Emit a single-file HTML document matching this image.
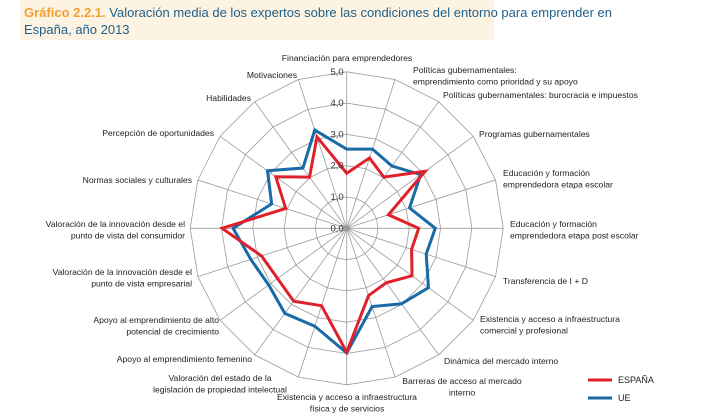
<!DOCTYPE html>
<html><head><meta charset="utf-8">
<style>
html,body{margin:0;padding:0;background:#fff;}
svg{display:block;}
text{font-family:"Liberation Sans",sans-serif;}
.lb{font-size:8.6px;fill:#222;}
</style></head>
<body>
<svg width="707" height="420" viewBox="0 0 707 420">
<rect x="20" y="0" width="474" height="40" fill="#fdf3e2"/>
<text x="24" y="17" font-size="13" fill="#1f5f8b"><tspan fill="#f0a030" font-weight="bold">Gráfico 2.2.1.</tspan> Valoración media de los expertos sobre las condiciones del entorno para emprender en</text>
<text x="24" y="34" font-size="13" fill="#1f5f8b">España, año 2013</text>
<g id="grid"></g>
<g id="series"></g>
<g id="ticks"></g>
<g id="labels"></g>
<g>
<line x1="588" y1="380" x2="612" y2="380" stroke="#e0202a" stroke-width="3"/>
<text x="618" y="383" font-size="9" fill="#222">ESPAÑA</text>
<line x1="588" y1="398" x2="612" y2="398" stroke="#1a6aa5" stroke-width="3"/>
<text x="618" y="401" font-size="9" fill="#222">UE</text>
</g>
</svg>
<script>
const categories = ["Financiación para emprendedores","Políticas gubernamentales: prioridad","Políticas gubernamentales: burocracia","Programas gubernamentales","Educación etapa escolar","Educación etapa post escolar","Transferencia de I + D","Infraestructura comercial","Dinámica del mercado interno","Barreras de acceso","Infraestructura física","Propiedad intelectual","Emprendimiento femenino","Alto potencial","Innovación empresarial","Innovación consumidor","Normas sociales","Percepción de oportunidades","Habilidades","Motivaciones"];
const espana = [1.76,2.36,2.02,3.1,1.4,2.3,2.18,2.58,2.15,2.26,3.96,2.6,2.88,2.73,2.86,3.98,2.05,2.8,2.02,3.07];
const ue = [2.53,2.66,2.46,2.92,2.11,2.83,2.67,3.23,2.98,2.63,3.98,3.29,3.36,3.08,3.22,3.63,2.52,3.13,2.38,3.3];
const tickLabels = ["0,0","1,0","2,0","3,0","4,0","5,0"];
const CX=346.7, CY=228.3, R=156.5, MAX=5;
const NS="http://www.w3.org/2000/svg";
function ang(i){return i*2*Math.PI/categories.length;}
function pt(i,v){const r=v/MAX*R;return [CX+r*Math.sin(ang(i)), CY-r*Math.cos(ang(i))];}
function mk(tag,attrs,parent){const e=document.createElementNS(NS,tag);for(const k in attrs)e.setAttribute(k,attrs[k]);parent.appendChild(e);return e;}
const grid=document.getElementById('grid');
for(let t=1;t<=MAX;t++){
  const p=categories.map((c,i)=>pt(i,t).join(',')).join(' ');
  const e=mk('polygon',{points:p,fill:'none',stroke:'#9a9a9a','stroke-width':'0.8'},grid);
  
  
}
categories.forEach((c,i)=>{
  const [x,y]=pt(i,MAX);
  const e=mk('line',{x1:CX,y1:CY,x2:x,y2:y,stroke:'#9a9a9a','stroke-width':'0.8'},grid);
  
  
});
const cd=mk('circle',{cx:CX,cy:CY,r:3,fill:'#999'},grid);


const ser=document.getElementById('series');
[[ue,'#1a6aa5','series-ue'],[espana,'#e0202a','series-espana']].forEach(([d,col,nm])=>{
  const p=d.map((v,i)=>pt(i,v).join(',')).join(' ');
  const e=mk('polygon',{points:p,fill:'none',stroke:col,'stroke-width':'3','stroke-linejoin':'miter'},ser);
  
  
});
const tk=document.getElementById('ticks');
tickLabels.forEach((l,t)=>{
  const y=CY-t/MAX*R;
  const e=mk('text',{x:CX-3,y:y+3,'text-anchor':'end','font-size':'9.5',fill:'#333'},tk);
  e.textContent=l;
  
  
});
const labels=[
 [347,61,'middle',["Financiación para emprendedores"]],
 [413,73,'start',["Políticas gubernamentales:","emprendimiento como prioridad y su apoyo"]],
 [443,98,'start',["Políticas gubernamentales: burocracia e impuestos"]],
 [479,137,'start',["Programas gubernamentales"]],
 [503,176,'start',["Educación y formación","emprendedora etapa escolar"]],
 [510,227,'start',["Educación y formación","emprendedora etapa post escolar"]],
 [503,284,'start',["Transferencia de I + D"]],
 [480,322,'start',["Existencia y acceso a infraestructura","comercial y profesional"]],
 [444,364,'start',["Dinámica del mercado interno"]],
 [462,384,'middle',["Barreras de acceso al mercado","interno"]],
 [347,400,'middle',["Existencia y acceso a infraestructura","física y de servicios"]],
 [220,381,'middle',["Valoración del estado de la","legislación de propiedad intelectual"]],
 [252,362,'end',["Apoyo al emprendimiento femenino"]],
 [219,323,'end',["Apoyo al emprendimiento de alto","potencial de crecimiento"]],
 [192,275,'end',["Valoración de la innovación desde el","punto de vista empresarial"]],
 [185,227,'end',["Valoración de la innovación desde el","punto de vista del consumidor"]],
 [192,183,'end',["Normas sociales y culturales"]],
 [214,136,'end',["Percepción de oportunidades"]],
 [251,101,'end',["Habilidades"]],
 [297,78,'end',["Motivaciones"]]
];
const lg=document.getElementById('labels');
labels.forEach(([x,y,a,lines])=>{
  lines.forEach((s,k)=>{
    const e=mk('text',{x:x,y:y+k*11.5,'text-anchor':a,class:'lb'},lg);
    e.textContent=s;
    
    
  });
});
</script>
</body></html>
